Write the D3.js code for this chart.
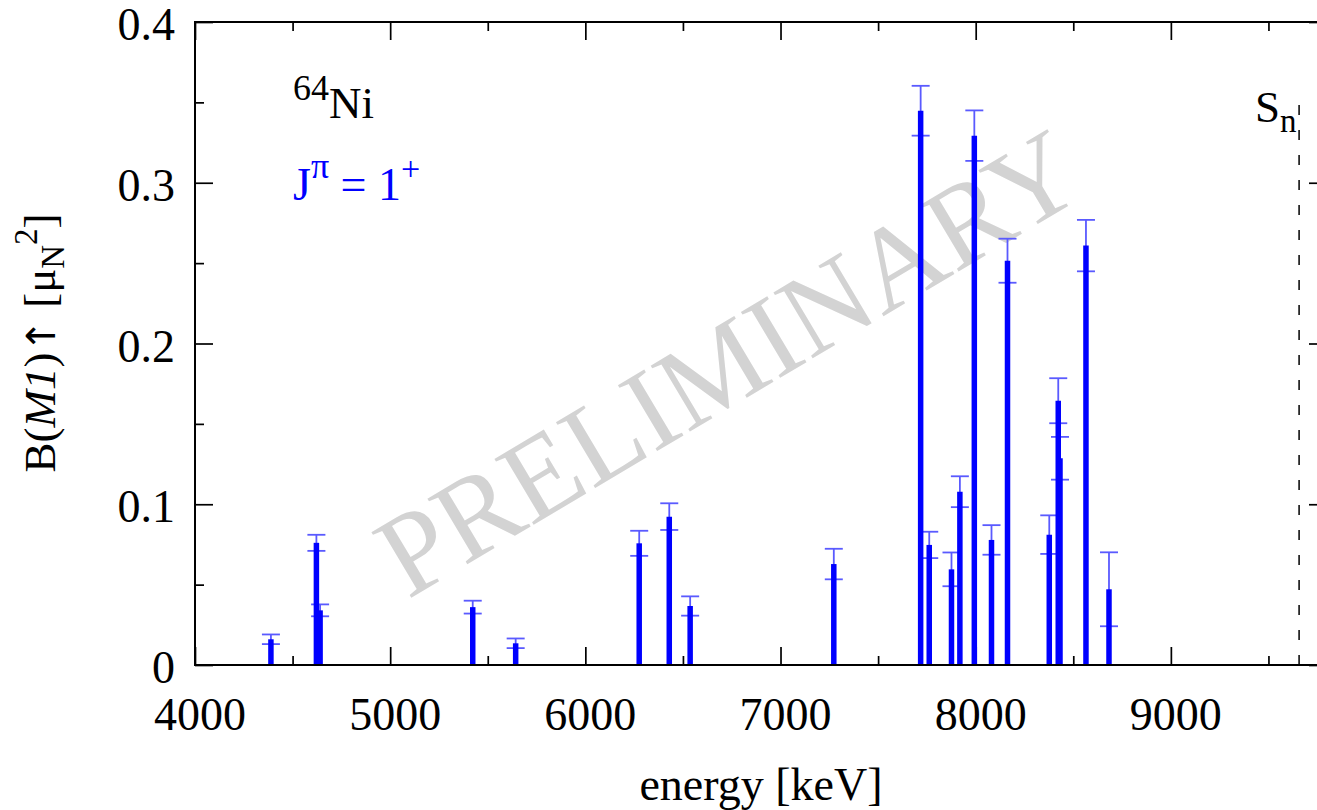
<!DOCTYPE html>
<html>
<head>
<meta charset="utf-8">
<script src="https://cdn.jsdelivr.net/npm/d3@7"></script>
<style>
  html, body { margin: 0; padding: 0; background: #fff; }
  svg { display: block; }
  text { font-family: "Liberation Serif", "Times New Roman", serif; }
</style>
</head>
<body>
<svg id="chart" width="1317" height="810"></svg>
<script>
// 64Ni, J^pi = 1+ states
const energies = [4389, 4622, 4641, 5423, 5643, 6276, 6430, 6537, 7273, 7718, 7762,
                  7876, 7919, 7993, 8081, 8163, 8377, 8423, 8432, 8565, 8683];
const bm1 = [0.016, 0.076, 0.034, 0.036, 0.0135, 0.0757, 0.0923, 0.0367, 0.0628, 0.3448, 0.0747,
             0.0595, 0.1078, 0.3293, 0.0778, 0.2515, 0.0811, 0.1644, 0.1286, 0.2609, 0.0471];
const bm1Err = [0.003, 0.005, 0.0037, 0.004, 0.003, 0.0078, 0.0083, 0.006, 0.0095, 0.0155, 0.0082,
                0.0105, 0.0096, 0.0157, 0.0092, 0.0137, 0.012, 0.014, 0.0133, 0.016, 0.023];

const xTicks = [4000, 5000, 6000, 7000, 8000, 9000];
const xMinorTicks = [4500, 5500, 6500, 7500, 8500, 9500];
const yTicks = [0, 0.1, 0.2, 0.3, 0.4];
const yTickLabels = ["0", "0.1", "0.2", "0.3", "0.4"];
const yMinorTicks = [0.05, 0.15, 0.25, 0.35];
const sn = [9657, 0.35];   // neutron separation energy, line height

const svg = d3.select("#chart");
const pLeft = 195, pRight = 1327, pTop = 22, pBottom = 665;

const x = d3.scaleLinear().domain([4000, 9800]).range([pLeft, pRight]);
const y = d3.scaleLinear().domain([0, 0.4]).range([pBottom, pTop]);

// watermark
svg.append("text")
    .attr("transform", "translate(729,364) rotate(-30.8)")
    .attr("y", 38)
    .attr("text-anchor", "middle")
    .attr("font-size", 117)
    .attr("fill", "#d3d3d3")
    .text("PRELIMINARY");

function tickAxis(axis, major, minor, transform) {
    const g = svg.append("g").attr("transform", transform);
    g.call(axis.tickValues(major).tickSize(-18).tickFormat(""));
    const gm = svg.append("g").attr("transform", transform);
    gm.call(axis.tickValues(minor).tickSize(-9).tickFormat(""));
    [g, gm].forEach(s => {
        s.select(".domain").remove();
        s.selectAll("line").attr("stroke", "#000").attr("stroke-width", 1.7);
    });
}

tickAxis(d3.axisBottom(x), xTicks, xMinorTicks, `translate(0,${pBottom})`);
tickAxis(d3.axisTop(x), xTicks, xMinorTicks, `translate(0,${pTop})`);
tickAxis(d3.axisLeft(y), yTicks, yMinorTicks, `translate(${pLeft},0)`);
tickAxis(d3.axisRight(y), yTicks, yMinorTicks, `translate(${pRight},0)`);

// tick labels
svg.append("g").selectAll("text")
    .data(xTicks)
    .join("text")
    .attr("x", d => x(d) + 5)
    .attr("y", pBottom + 65)
    .attr("text-anchor", "middle")
    .attr("font-size", 46)
    .text(d => d);

svg.append("g").selectAll("text")
    .data(yTicks)
    .join("text")
    .attr("x", 175)
    .attr("y", d => y(d) + 18)
    .attr("text-anchor", "end")
    .attr("font-size", 46)
    .text((d, i) => yTickLabels[i]);

// Sn dashed line
svg.append("line")
    .attr("x1", x(sn[0])).attr("x2", x(sn[0]))
    .attr("y1", y(0)).attr("y2", y(sn[1]))
    .attr("stroke", "#000")
    .attr("stroke-width", 1.5)
    .attr("stroke-dasharray", "10,15");

const pts = energies.map((e, i) => ({ e: e, v: bm1[i], err: bm1Err[i] }));

// error bars
const eb = svg.append("g")
    .attr("stroke", "#5a5aff")
    .attr("stroke-width", 1.8)
    .selectAll("g")
    .data(pts)
    .join("g");
eb.append("line")
    .attr("x1", d => x(d.e)).attr("x2", d => x(d.e))
    .attr("y1", d => y(d.v - d.err)).attr("y2", d => y(d.v + d.err));
eb.append("line")
    .attr("x1", d => x(d.e) - 9).attr("x2", d => x(d.e) + 9)
    .attr("y1", d => y(d.v + d.err)).attr("y2", d => y(d.v + d.err));
eb.append("line")
    .attr("x1", d => x(d.e) - 9).attr("x2", d => x(d.e) + 9)
    .attr("y1", d => y(d.v - d.err)).attr("y2", d => y(d.v - d.err));

// bars
svg.append("g").selectAll("line")
    .data(pts)
    .join("line")
    .attr("x1", d => x(d.e)).attr("x2", d => x(d.e))
    .attr("y1", y(0)).attr("y2", d => y(d.v))
    .attr("stroke", "#0000ff")
    .attr("stroke-width", 5.5);

// frame
svg.append("rect")
    .attr("x", pLeft).attr("y", pTop)
    .attr("width", pRight - pLeft).attr("height", pBottom - pTop)
    .attr("fill", "none")
    .attr("stroke", "#000")
    .attr("stroke-width", 2);

// annotations
const ni = svg.append("text").attr("x", 293).attr("y", 118).attr("font-size", 45);
ni.append("tspan").attr("font-size", 36).attr("dy", -18).text("64");
ni.append("tspan").attr("dy", 18).text("Ni");

const jp = svg.append("text").attr("x", 293).attr("y", 200).attr("font-size", 46).attr("fill", "#0000ff");
jp.append("tspan").text("J");
jp.append("tspan").attr("font-size", 36).attr("dy", -22).text("π");
jp.append("tspan").attr("dy", 22).text(" = 1");
jp.append("tspan").attr("font-size", 34).attr("dy", -20).text("+");

const snl = svg.append("text").attr("x", 1255).attr("y", 122).attr("font-size", 45);
snl.append("tspan").text("S");
snl.append("tspan").attr("font-size", 33).attr("dy", 10).text("n");

svg.append("text")
    .attr("x", (pLeft + pRight) / 2)
    .attr("y", 800)
    .attr("text-anchor", "middle")
    .attr("font-size", 46)
    .text("energy [keV]");

const yl = svg.append("text")
    .attr("transform", "translate(55,343) rotate(-90)")
    .attr("text-anchor", "middle")
    .attr("font-size", 45);
yl.append("tspan").text("B(");
yl.append("tspan").attr("font-style", "italic").text("M1");
yl.append("tspan").text(")");
yl.append("tspan").attr("font-family", "DejaVu Sans").attr("font-size", 40).text("↑");
yl.append("tspan").text(" [μ");
yl.append("tspan").attr("font-size", 33).attr("dy", 9).text("N");
yl.append("tspan").attr("font-size", 33).attr("dy", -27).text("2");
yl.append("tspan").attr("dy", 18).text("]");
</script>
</body>
</html>
